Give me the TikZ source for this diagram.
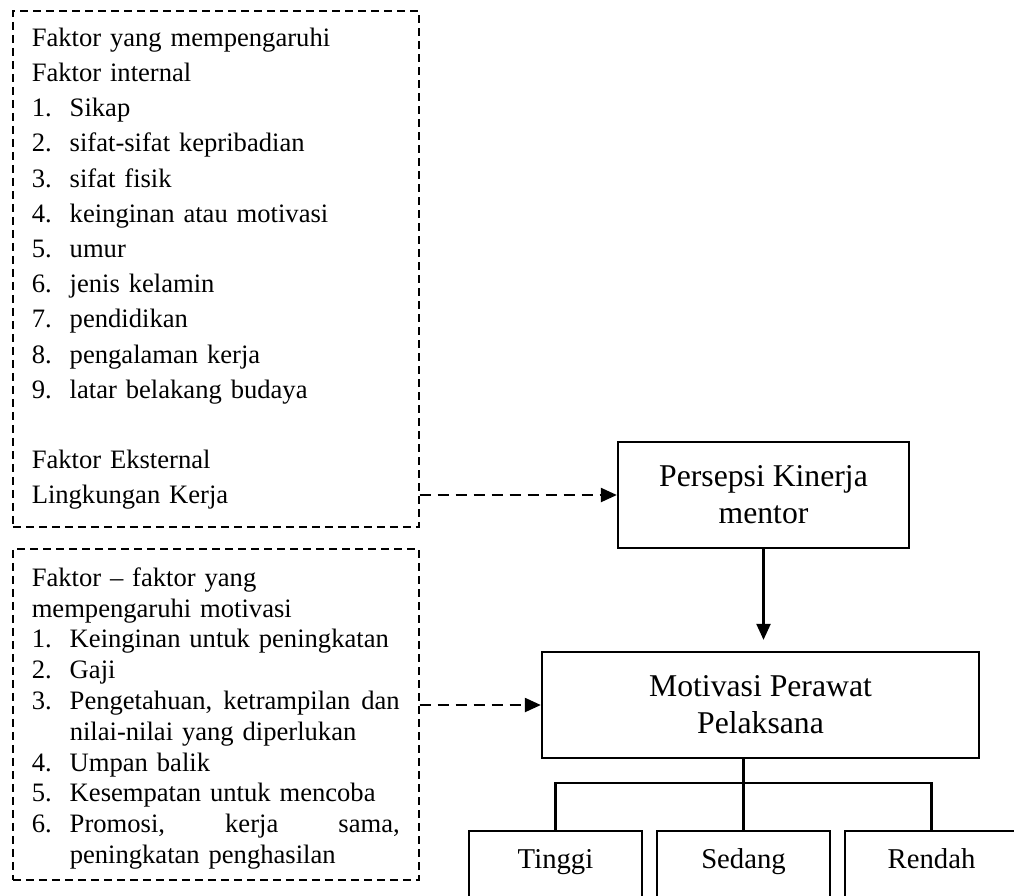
\documentclass[tikz,border=0pt]{standalone}
\usepackage{fontspec}
\setmainfont{Liberation Serif}
\usetikzlibrary{arrows.meta}
\newcommand{\butir}[2]{\makebox[38pt][l]{#1}#2}
\begin{document}
\begin{tikzpicture}[x=1pt,y=-1pt,
faktor/.style={draw,dash pattern=on 8pt off 5pt,line width=1.5pt,anchor=north west,text width=368pt,inner xsep=19pt,inner ysep=0pt,align=left},
kotak/.style={draw,line width=2.3pt,align=center,font=\fontsize{31.7}{37}\selectfont},
hasil/.style={draw,line width=2.3pt,anchor=north,minimum width=173pt,inner ysep=0pt,text height=37pt,text depth=80pt,font=\fontsize{28.7}{34}\selectfont},
panah/.style={-{Triangle[length=16pt,width=14pt]},line width=2.2pt},
putus/.style={panah,dash pattern=on 11pt off 7pt}]
\useasboundingbox (0,0) rectangle (1014,895);
\clip (0,0) rectangle (1014,895);
\node[faktor,minimum height=516pt,font=\fontsize{26.6}{35.2}\selectfont] (internal) at (12,10) {Faktor yang mempengaruhi\\
Faktor internal\\
\butir{1.}{Sikap}\\
\butir{2.}{sifat-sifat kepribadian}\\
\butir{3.}{sifat fisik}\\
\butir{4.}{keinginan atau motivasi}\\
\butir{5.}{umur}\\
\butir{6.}{jenis kelamin}\\
\butir{7.}{pendidikan}\\
\butir{8.}{pengalaman kerja}\\
\butir{9.}{latar belakang budaya}\\
\mbox{}\\
Faktor Eksternal\\
Lingkungan Kerja};
\node[faktor,minimum height=331pt,font=\fontsize{26.6}{30.8}\selectfont] (pengaruh) at (12,548) {\rule{0pt}{27pt}Faktor – faktor yang\\
mempengaruhi motivasi\\
\butir{1.}{Keinginan untuk peningkatan}\\
\butir{2.}{Gaji}\\
\butir{3.}{Pengetahuan,\hfill ketrampilan\hfill dan}\\
\hspace*{38pt}nilai-nilai yang diperlukan\\
\butir{4.}{Umpan balik}\\
\butir{5.}{Kesempatan untuk mencoba}\\
\butir{6.}{Promosi,\hfill kerja\hfill sama,}\\
\hspace*{38pt}peningkatan penghasilan};
\node[kotak,minimum width=291pt,minimum height=106pt] (persepsi) at (763.5,495) {Persepsi Kinerja\\mentor};
\node[kotak,minimum width=437pt,minimum height=106pt] (motivasi) at (760.5,705) {Motivasi Perawat\\Pelaksana};
\foreach \nama/\teks/\x in {tinggi/Tinggi/555.5,sedang/Sedang/743.5,rendah/Rendah/931.5}
\node[hasil] (\nama) at (\x,830) {\teks};
\draw[putus] (persepsi.west -| internal.east) -- (persepsi.west);
\draw[putus] (motivasi.west -| pengaruh.east) -- (motivasi.west);
\draw[panah,shorten >=11pt] (persepsi.south) -- (persepsi.south |- motivasi.north);
\coordinate (simpul) at (sedang.north |- 0,783);
\draw[line width=2.2pt] (sedang.north |- motivasi.south) -- (sedang.north);
\draw[line width=2.2pt] (tinggi.north) |- (simpul) -| (rendah.north);
\end{tikzpicture}
\end{document}
